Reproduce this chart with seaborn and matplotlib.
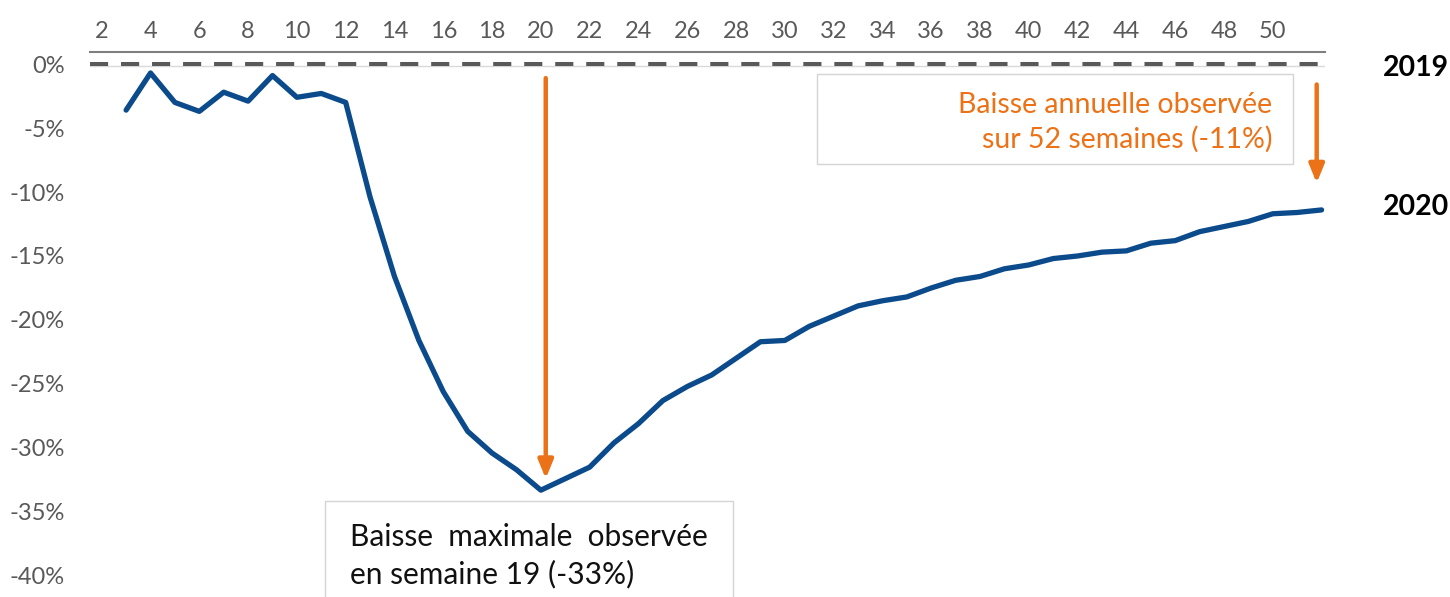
import matplotlib
matplotlib.use("Agg")
import matplotlib.pyplot as plt
from matplotlib.patches import Rectangle
import seaborn as sns
import pandas as pd

weeks = list(range(3, 53))
values_2020 = [-3.6, -0.7, -3.0, -3.7, -2.2, -2.9, -0.9, -2.6, -2.3, -3.0,
               -10.4, -16.6, -21.6, -25.6, -28.7, -30.4, -31.7, -33.3, -32.4, -31.5,
               -29.6, -28.1, -26.3, -25.2, -24.3, -23.0, -21.7, -21.6, -20.5, -19.7,
               -18.9, -18.5, -18.2, -17.5, -16.9, -16.6, -16.0, -15.7, -15.2, -15.0,
               -14.7, -14.6, -14.0, -13.8, -13.1, -12.7, -12.3, -11.7, -11.6, -11.4]
x_ticks = list(range(2, 51, 2))
y_ticks = [0, -5, -10, -15, -20, -25, -30, -35, -40]
y_labels = ["0%", "-5%", "-10%", "-15%", "-20%", "-25%", "-30%", "-35%", "-40%"]
series_labels = ["2019", "2020"]
note_max = "Baisse  maximale  observée\nen semaine 19 (-33%)"
note_year = "Baisse annuelle observée\nsur 52 semaines (-11%)"

df = pd.DataFrame({"semaine": weeks, "variation": values_2020})

sns.set_style("white")
plt.rcParams["font.family"] = ["Lato", "DejaVu Sans"]

W, H = 1450, 597
fig = plt.figure(figsize=(W / 100, H / 100), dpi=100)

def fx(px):
    return px / W

def fy(py):
    return 1 - py / H

ax_left, ax_right, ax_top, ax_bottom = 90, 1325, 52, 590
ax = fig.add_axes([fx(ax_left), fy(ax_bottom), fx(ax_right - ax_left), (ax_bottom - ax_top) / H])

blue = "#0B4A8B"
orange = "#EC7217"
grey = "#595959"

ax.axhline(-0.15, color="#d9d9d9", lw=1.0, zorder=1)
ax.axhline(0, color=grey, lw=2.9, dashes=(4.5, 3.2), zorder=2)

sns.lineplot(data=df, x="semaine", y="variation", ax=ax, color=blue, linewidth=3.8,
             solid_capstyle="round", solid_joinstyle="round", zorder=3)

ax.set_xlim(1.52, 52.14)
ax.set_ylim(-41.1, 0.94)
ax.xaxis.tick_top()
ax.set_xticks(x_ticks)
ax.set_xticklabels([str(t) for t in x_ticks], color=grey, fontsize=17)
ax.set_yticks(y_ticks)
ax.set_yticklabels(y_labels, color=grey, fontsize=17)
ax.tick_params(axis="x", length=0, pad=7)
ax.tick_params(axis="y", length=0, pad=18)
ax.set_xlabel("")
ax.set_ylabel("")
for s in ["left", "right", "bottom"]:
    ax.spines[s].set_visible(False)
ax.spines["top"].set_color("#7f7f7f")
ax.spines["top"].set_linewidth(1.5)

# arrows
ax.annotate("", xy=(20.2, -32.4), xytext=(20.2, -1.1),
            arrowprops=dict(arrowstyle="-|>,head_width=0.45,head_length=1.1",
                            color=orange, lw=3.2, shrinkA=0, shrinkB=0))
ax.annotate("", xy=(51.8, -9.3), xytext=(51.8, -1.6),
            arrowprops=dict(arrowstyle="-|>,head_width=0.45,head_length=1.1",
                            color=orange, lw=3.2, shrinkA=0, shrinkB=0))

# boxes
fig.add_artist(Rectangle((fx(817), fy(164)), fx(1293 - 817), (164 - 74) / H,
                         transform=fig.transFigure, facecolor="white",
                         edgecolor="#d4d4d4", lw=1.0, zorder=5))
fig.text(fx(1272), fy(122), note_year, ha="right", va="center", color=orange,
         fontsize=20.5, linespacing=1.35, zorder=6)

fig.add_artist(Rectangle((fx(325), fy(605)), fx(733 - 325), (605 - 501) / H,
                         transform=fig.transFigure, facecolor="white",
                         edgecolor="#d4d4d4", lw=1.0, zorder=5))
fig.text(fx(350), fy(556), note_max, ha="left", va="center", color="#111111",
         fontsize=21.5, linespacing=1.38, zorder=6)

# series labels
fig.text(fx(1383), fy(68), series_labels[0], ha="left", va="center", color="black",
         fontsize=20.5, fontweight="bold")
fig.text(fx(1383), fy(207), series_labels[1], ha="left", va="center", color="black",
         fontsize=20.5, fontweight="bold")

fig.savefig("out.png", dpi=100)
